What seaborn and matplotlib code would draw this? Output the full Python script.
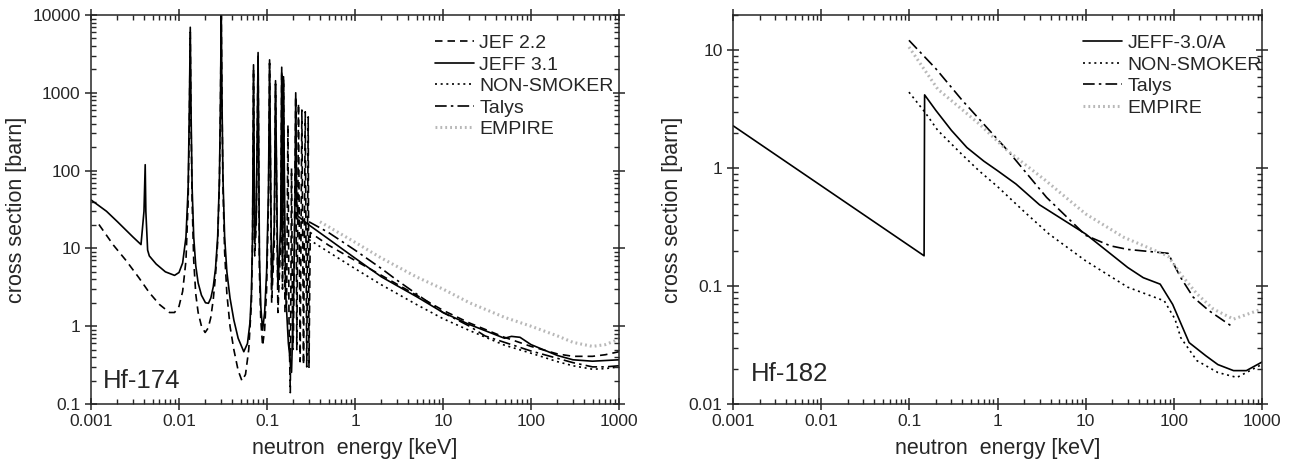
import numpy as np
import pandas as pd
import seaborn as sns
import matplotlib
matplotlib.use("Agg")
import matplotlib.pyplot as plt
from matplotlib.ticker import LogLocator, FixedLocator, FixedFormatter, NullFormatter

# ---- Hf-174 data (neutron energy keV, cross section barn) ----
jef22_E = [0.00123, 0.0018, 0.0025, 0.0035, 0.0046, 0.006, 0.0078, 0.0089, 0.0100, 0.0110,
           0.0120, 0.0127, 0.0131, 0.01343, 0.0137, 0.0141, 0.0147, 0.0155, 0.0165, 0.018,
           0.0198, 0.0215, 0.023, 0.0245, 0.026, 0.0275, 0.0288, 0.0296, 0.0302, 0.0308,
           0.0316, 0.033, 0.035, 0.038, 0.042, 0.047, 0.0519, 0.057, 0.062, 0.0665,
           0.0685, 0.0703, 0.0725, 0.0755, 0.0792, 0.082, 0.085, 0.0891, 0.094, 0.099,
           0.104, 0.107, 0.113, 0.121, 0.125, 0.133, 0.143, 0.147, 0.150, 0.154,
           0.160, 0.167, 0.173, 0.178, 0.184, 0.190, 0.196, 0.200, 0.212, 0.218,
           0.228, 0.238, 0.249, 0.260, 0.272, 0.283, 0.294, 0.300, 0.31,
           0.5, 1, 2, 5, 10, 20, 50, 100, 200, 300, 500, 700, 1000]
jef22_s = [20.3, 11, 7.0, 4.2, 2.7, 1.9, 1.5, 1.5, 1.8, 2.8,
           7, 40, 400, 6000, 400, 40, 7, 2.6, 1.5, 1.0,
           0.83, 0.95, 1.3, 2.2, 4.5, 12, 70, 700, 11000, 700,
           60, 9, 2.6, 1.0, 0.5, 0.27, 0.199, 0.24, 0.5, 2,
           12, 2000, 8, 20, 3000, 5, 1.2, 0.56, 0.9, 3,
           40, 2400, 2, 12, 1300, 1.5, 12, 1900, 3, 1500,
           1.5, 2, 385, 1, 0.14, 107, 0.5, 0.8, 900, 0.5,
           730, 0.35, 600, 0.32, 570, 0.3, 490, 0.29, 16,
           11, 7.0, 4.5, 2.5, 1.6, 1.1, 0.72, 0.55, 0.44, 0.41, 0.41, 0.43, 0.47]

jeff31_E = [0.001, 0.0015, 0.002, 0.003, 0.0037, 0.0040, 0.00413, 0.0042, 0.0044, 0.0046,
            0.0055, 0.007, 0.0089, 0.0100, 0.0110, 0.0120, 0.0127, 0.0131, 0.01343, 0.0137,
            0.0141, 0.0147, 0.0155, 0.0165, 0.018, 0.020, 0.0216, 0.023, 0.0245, 0.026,
            0.0275, 0.0288, 0.0296, 0.0302, 0.0308, 0.0316, 0.033, 0.035, 0.038, 0.042,
            0.047, 0.0545, 0.060, 0.064, 0.0665, 0.0685, 0.0703, 0.0725, 0.0755, 0.0792,
            0.082, 0.085, 0.0891, 0.094, 0.099, 0.104, 0.107, 0.113, 0.121, 0.125,
            0.133, 0.143, 0.147, 0.150, 0.154, 0.162, 0.175, 0.190, 0.200, 0.208,
            0.212, 0.218, 0.224, 0.3, 0.52, 1, 2, 5, 10, 20,
            50, 60, 75, 100, 200, 300, 500, 1000]
jeff31_s = [42, 30, 22, 14, 11.2, 30, 119, 30, 9.5, 8.0,
            6.3, 5.0, 4.5, 4.9, 6.5, 14, 60, 600, 6950, 600,
            60, 14, 6.0, 3.6, 2.5, 2.0, 1.97, 2.3, 3.2, 5.5,
            14, 80, 800, 12000, 800, 80, 14, 5.0, 2.3, 1.2,
            0.7, 0.47, 0.6, 1.1, 2.6, 15, 2290, 12, 25, 3290,
            8, 1.8, 0.89, 1.5, 5, 60, 2650, 3, 20, 1430,
            3, 20, 2130, 6, 1610, 3, 0.6, 0.255, 2, 40,
            1000, 40, 26, 20, 12.8, 7.5, 4.3, 2.4, 1.5, 1.05,
            0.70, 0.74, 0.72, 0.58, 0.42, 0.37, 0.355, 0.37]

ns174_E = [0.3, 0.5, 1, 2, 5, 10, 20, 50, 100, 200, 300, 500, 700, 1000]
ns174_s = [13, 9, 5.5, 3.4, 1.9, 1.25, 0.88, 0.57, 0.45, 0.35, 0.31, 0.28, 0.285, 0.30]

talys174_E = [0.3, 0.5, 1, 2, 3, 5, 10, 20, 30, 50, 100, 300, 500, 700, 1000]
talys174_s = [22, 16, 9.5, 5.5, 3.9, 2.6, 1.5, 1.0, 0.75, 0.62, 0.48, 0.34, 0.30, 0.30, 0.31]

empire174_E = [0.4, 1, 2, 5, 10, 20, 50, 100, 200, 300, 500, 700, 1000]
empire174_s = [22, 12, 7.5, 4.3, 3.0, 2.0, 1.3, 1.0, 0.75, 0.62, 0.55, 0.58, 0.68]

# ---- Hf-182 data ----
jeff30_E = [0.001, 0.147, 0.149, 0.2, 0.3, 0.45, 0.7, 1.0, 1.62, 3, 10, 30, 45, 70, 97,
            149, 230, 316, 475, 665, 1000]
jeff30_s = [2.3, 0.181, 4.2, 3.1, 2.1, 1.5, 1.15, 0.955, 0.736, 0.49, 0.277, 0.144, 0.118,
            0.104, 0.070, 0.0332, 0.0257, 0.0216, 0.0192, 0.0192, 0.0227]

ns182_E = [0.099, 0.15, 0.21, 0.4, 0.62, 1.0, 2, 3.84, 10, 30, 78, 103, 120, 183, 316, 520, 1000]
ns182_s = [4.43, 3.0, 2.1, 1.3, 0.95, 0.70, 0.43, 0.277, 0.164, 0.098, 0.075, 0.0526, 0.0365,
           0.0233, 0.0185, 0.0168, 0.0217]

talys182_E = [0.099, 0.2, 0.40, 1.31, 3.6, 10, 19, 30, 86, 120, 166, 250, 475]
talys182_s = [12.2, 7.0, 3.76, 1.41, 0.567, 0.27, 0.22, 0.205, 0.19, 0.118, 0.0806, 0.062, 0.0446]

empire182_E = [0.099, 0.21, 0.62, 1.3, 3.5, 10, 27, 86, 120, 183, 280, 475, 1000]
empire182_s = [10.7, 4.7, 2.38, 1.41, 0.79, 0.41, 0.26, 0.18, 0.126, 0.086, 0.064, 0.0525, 0.064]

sns.set_style("ticks")
plt.rcParams['font.family'] = ['Liberation Sans', 'DejaVu Sans']
plt.rcParams['axes.linewidth'] = 1.1

DASH = (0, (4.5, 3))
SOLID = "-"
DOT = (0, (1.2, 2.2))
DASHDOT = (0, (7, 2.5, 1.5, 2.5))
EMP = (0, (0.6, 1.0))
EMP_COLOR = "#b8b8b8"

fig = plt.figure(figsize=(12.96, 4.69), dpi=100)
ax1 = fig.add_axes([91 / 1296, 1 - 404 / 469, 528 / 1296, 389 / 469])
ax2 = fig.add_axes([733 / 1296, 1 - 404 / 469, 529 / 1296, 389 / 469])


def draw(ax, E, s, label, ls, color="black", lw=1.2):
    df = pd.DataFrame({"E": E, "s": s})
    sns.lineplot(data=df, x="E", y="s", ax=ax, sort=False, estimator=None,
                 color=color, linestyle=ls, linewidth=lw, label=label)


for ax in (ax1, ax2):
    ax.set_xscale("log")
    ax.set_yscale("log")

draw(ax1, jef22_E, jef22_s, "JEF 2.2", DASH)
draw(ax1, jeff31_E, jeff31_s, "JEFF 3.1", SOLID)
draw(ax1, ns174_E, ns174_s, "NON-SMOKER", DOT)
draw(ax1, talys174_E, talys174_s, "Talys", DASHDOT)
draw(ax1, empire174_E, empire174_s, "EMPIRE", EMP, color=EMP_COLOR, lw=2.2)

draw(ax2, jeff30_E, jeff30_s, "JEFF-3.0/A", SOLID)
draw(ax2, ns182_E, ns182_s, "NON-SMOKER", DOT)
draw(ax2, talys182_E, talys182_s, "Talys", DASHDOT)
draw(ax2, empire182_E, empire182_s, "EMPIRE", EMP, color=EMP_COLOR, lw=2.2)

xticks = [0.001, 0.01, 0.1, 1, 10, 100, 1000]
xlabels = ["0.001", "0.01", "0.1", "1", "10", "100", "1000"]
y1ticks = [0.1, 1, 10, 100, 1000, 10000]
y1labels = ["0.1", "1", "10", "100", "1000", "10000"]
y2ticks = [0.01, 0.1, 1, 10]
y2labels = ["0.01", "0.1", "1", "10"]

ax1.set_xlim(0.001, 1000)
ax1.set_ylim(0.1, 10000)
ax2.set_xlim(0.001, 1000)
ax2.set_ylim(0.01, 20)

for ax, yt, yl in ((ax1, y1ticks, y1labels), (ax2, y2ticks, y2labels)):
    ax.xaxis.set_major_locator(FixedLocator(xticks))
    ax.xaxis.set_major_formatter(FixedFormatter(xlabels))
    ax.yaxis.set_major_locator(FixedLocator(yt))
    ax.yaxis.set_major_formatter(FixedFormatter(yl))
    ax.xaxis.set_minor_locator(LogLocator(base=10, subs=np.arange(2, 10), numticks=20))
    ax.yaxis.set_minor_locator(LogLocator(base=10, subs=np.arange(2, 10), numticks=20))
    ax.xaxis.set_minor_formatter(NullFormatter())
    ax.yaxis.set_minor_formatter(NullFormatter())
    ax.tick_params(which="major", direction="inout", length=8, width=1.1,
                   top=True, right=True, labelsize=12.5)
    ax.tick_params(which="minor", direction="in", length=3.5, width=1.0,
                   top=True, right=True)
    ax.set_xlabel("neutron  energy [keV]", fontsize=15.5, labelpad=6)
    ax.set_ylabel("cross section [barn]", fontsize=15.5, labelpad=4)
    for sp in ax.spines.values():
        sp.set_visible(True)

ax1.legend(loc="upper left", bbox_to_anchor=(0.625, 0.985), frameon=False, fontsize=14,
           handlelength=2.05, handletextpad=0.25, labelspacing=0.2, borderpad=0.2)
ax2.legend(loc="upper left", bbox_to_anchor=(0.635, 0.985), frameon=False, fontsize=14,
           handlelength=2.05, handletextpad=0.25, labelspacing=0.2, borderpad=0.2)

ax1.text(0.022, 0.04, "Hf-174", transform=ax1.transAxes, fontsize=18.5)
ax2.text(0.034, 0.06, "Hf-182", transform=ax2.transAxes, fontsize=18.5)

fig.savefig("out.png", dpi=100)
